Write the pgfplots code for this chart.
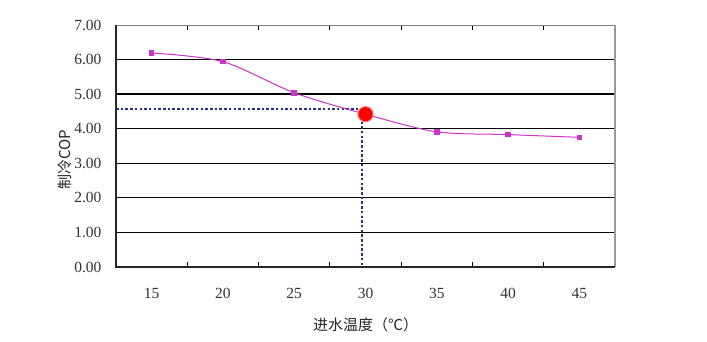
\documentclass[border=0pt]{standalone}
\usepackage{pgfplots}
\pgfplotsset{compat=1.18}
\usepackage{fontspec}
\setmainfont{Liberation Serif}
\newfontfamily\cjk{Noto Sans CJK SC}
\definecolor{mag}{RGB}{204,51,204}
\definecolor{navy}{RGB}{40,50,130}
\begin{document}
\begin{tikzpicture}[x=1pt,y=1pt]
\useasboundingbox[fill=white] (0,0) rectangle (707,342);
\begin{axis}[
  at={(116pt,75pt)}, anchor=south west,
  scale only axis, width=499pt, height=242pt,
  xmin=12.5, xmax=47.5, ymin=0, ymax=7,
  xtick={15,20,25,30,35,40,45},
  minor xtick={17.5,22.5,27.5,32.5,37.5,42.5,47.5},
  major tick length=0pt, minor tick length=5pt,
  minor tick style={black, line width=1pt},
  ytick={0,1,2,3,4,5,6,7},
  yticklabel={\pgfmathprintnumber[fixed,fixed zerofill,precision=2]{\tick}},
  /pgf/number format/assume math mode=true,
  tick label style={font=\fontsize{15.5}{17}\selectfont, text=black!80},
  xticklabel style={yshift=-18pt},
  yticklabel style={xshift=-11pt},
  axis line style={draw=none},
  xlabel={\cjk 进水温度（℃）},
  ylabel={\cjk 制冷COP},
  xlabel style={font=\fontsize{15}{17}\selectfont, text=black!85, at={(axis description cs:0.5,-0.24)}, anchor=center},
  ylabel style={font=\fontsize{15}{17}\selectfont, text=black!85, at={(axis description cs:-0.102,0.442)}, anchor=center},
  clip=false,
]
% grid lines
\foreach \yy in {1,2,3,4,6} {
  \edef\tmp{\noexpand\draw[black, line width=1.2pt] (axis cs:12.5,\yy) -- (axis cs:47.5,\yy);}
  \tmp
}
\draw[black, line width=1.8pt] (axis cs:12.5,5) -- (axis cs:47.5,5);
% frame
\draw[gray, line width=0.8pt] (rel axis cs:0,1) -- (rel axis cs:1,1);
\draw[gray!80, line width=2pt] (rel axis cs:1,1) -- (rel axis cs:1,0);
\draw[black!85, line width=1.2pt] (rel axis cs:0,1) -- (rel axis cs:0,0) -- (rel axis cs:1,0);
% dotted guide lines
\addplot[navy, line width=1.8pt, dash pattern=on 2.5pt off 2.2pt] coordinates {(12.5,4.57) (29.75,4.57) (29.75,0)};
% data
\addplot[mag, line width=1pt, smooth, tension=0.5, mark=square*, mark size=2.3pt, mark options={fill=mag, draw=mag}] coordinates {
(15,6.19) (20,5.94) (25,5.04) (30,4.42) (35,3.91) (40,3.83) (45,3.75)};
\addplot[only marks, mark=*, mark size=7.5pt, red, mark options={fill=red, draw=red!60, line width=1pt}] coordinates {(30,4.42)};
\end{axis}
\end{tikzpicture}
\end{document}
